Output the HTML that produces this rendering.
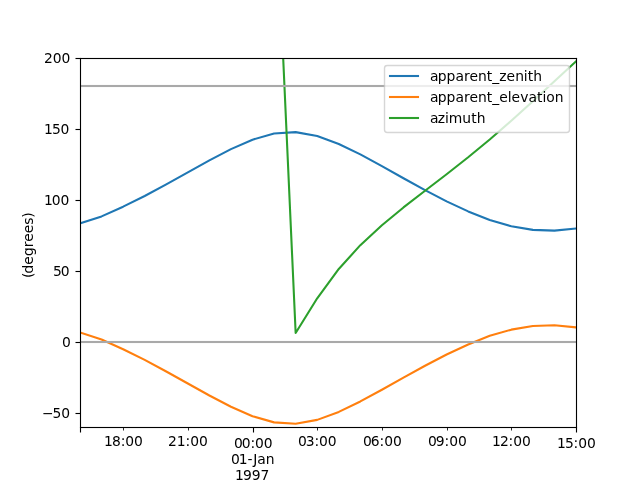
<!DOCTYPE html>
<html lang="en"><head><meta charset="utf-8"><title>Solar position</title>
<style>html,body{margin:0;padding:0;background:#fff;overflow:hidden}svg{display:block;will-change:transform}text{filter:grayscale(1);font-family:"DejaVu Sans", "Liberation Sans", sans-serif;font-size:13.8889px;fill:#000}</style></head><body>
<svg width="640" height="480" viewBox="0 0 640 480">
<rect x="0" y="0" width="640" height="480" fill="#ffffff"/>
<defs><clipPath id="ax"><rect x="80" y="58" width="496" height="370"/></clipPath></defs>
<g clip-path="url(#ax)" fill="none" stroke-width="2.0833" stroke-linejoin="round" stroke-linecap="square">
<polyline points="80.000,223.458 101.565,216.395 123.130,206.680 144.696,196.014 166.261,184.412 187.826,172.351 209.391,160.361 230.957,149.134 252.522,139.689 274.087,133.502 295.652,132.120 317.217,135.986 338.783,143.962 360.348,154.429 381.913,166.134 403.478,178.239 425.043,190.148 446.609,201.367 468.174,211.423 489.739,220.089 511.304,226.234 532.870,229.874 554.435,230.654 576.000,228.499" stroke="#1f77b4"/>
<polyline points="80.000,332.419 101.565,339.482 123.130,349.197 144.696,359.863 166.261,371.465 187.826,383.526 209.391,395.516 230.957,406.743 252.522,416.188 274.087,422.375 295.652,423.756 317.217,419.891 338.783,411.915 360.348,401.448 381.913,389.743 403.478,377.638 425.043,365.729 446.609,354.510 468.174,344.454 489.739,335.788 511.304,329.643 532.870,326.003 554.435,325.223 576.000,327.378" stroke="#ff7f0e"/>
<polyline points="80.000,42.108 101.565,23.877 123.130,6.570 144.696,-10.097 166.261,-26.622 187.826,-43.718 209.391,-62.377 230.957,-83.984 252.522,-110.284 274.087,-142.467 295.652,333.064 317.217,298.275 338.783,268.969 360.348,245.166 381.913,225.189 403.478,207.435 425.043,190.722 446.609,174.204 468.174,157.277 489.739,139.541 511.304,120.830 532.870,101.270 554.435,81.273 576.000,61.414" stroke="#2ca02c"/>
</g><g clip-path="url(#ax)">
<rect x="78" y="340.00" width="500" height="4" fill="#a9a9a9" fill-opacity="0.0417"/>
<rect x="78" y="341.00" width="500" height="2" fill="#a9a9a9"/>
<rect x="78" y="84.00" width="500" height="4" fill="#a9a9a9" fill-opacity="0.0417"/>
<rect x="78" y="85.00" width="500" height="2" fill="#a9a9a9"/>
</g>
<g fill="#000" stroke="none">
<rect x="79.944" y="428.000" width="1.111" height="4.500"/>
<rect x="575.944" y="428.000" width="1.111" height="4.500"/>
<rect x="252.944" y="428.000" width="1.111" height="4.500"/>
<rect x="123.083" y="428.000" width="0.833" height="2.500"/>
<rect x="188.083" y="428.000" width="0.833" height="2.500"/>
<rect x="317.083" y="428.000" width="0.833" height="2.500"/>
<rect x="382.083" y="428.000" width="0.833" height="2.500"/>
<rect x="447.083" y="428.000" width="0.833" height="2.500"/>
<rect x="511.083" y="428.000" width="0.833" height="2.500"/>
<rect x="75.500" y="412.944" width="4.500" height="1.111"/>
<rect x="75.500" y="341.944" width="4.500" height="1.111"/>
<rect x="75.500" y="270.944" width="4.500" height="1.111"/>
<rect x="75.500" y="199.944" width="4.500" height="1.111"/>
<rect x="75.500" y="128.944" width="4.500" height="1.111"/>
<rect x="75.500" y="57.944" width="4.500" height="1.111"/>
<rect x="79.944" y="57.945" width="1.111" height="370.110"/>
<rect x="575.944" y="57.945" width="1.111" height="370.110"/>
<rect x="79.945" y="57.944" width="497.110" height="1.111"/>
<rect x="79.945" y="426.944" width="497.110" height="1.111"/>
</g>
<g>
<text x="41.879 52.504 61.332" y="418.00">−50</text>
<text x="61.967" y="347.00">0</text>
<text x="52.949 60.761" y="276.00">50</text>
<text x="43.946 51.758 60.586" y="205.00">100</text>
<text x="43.946 52.008 60.586" y="134.00">150</text>
<text x="43.886 52.698 61.526" y="63.00">200</text>
<text x="103.975 111.912 120.741 125.303 134.006" y="446.00">18:00</text>
<text x="167.985 176.673 185.501 190.188 199.016" y="446.00">21:00</text>
<text x="297.995 305.807 314.511 319.073 327.776" y="446.00">03:00</text>
<text x="362.900 370.837 379.541 384.353 393.056" y="446.00">06:00</text>
<text x="427.900 435.837 444.541 449.353 458.056" y="446.00">09:00</text>
<text x="491.975 499.913 508.616 513.303 522.006" y="446.00">12:00</text>
<text x="233.965 241.777 250.606 255.043 263.871" y="448.00">00:00</text>
<text x="230.916 238.853 247.557 253.338 257.307 265.807" y="464.00">01-Jan</text>
<text x="234.999 243.061 251.764 260.592" y="480.00">1997</text>
<text x="556.885 564.948 573.526 578.338 587.041" y="448.00">15:00</text>
<text transform="translate(32.56 245.29) rotate(-90)" x="-32.719 -28.188 -19.375 -10.594 -1.906 3.609 12.156 20.563 27.656">(degrees)</text>
</g>
<rect x="384.5" y="65.5" width="185" height="67" rx="2.778" ry="2.778" fill="#ffffff" stroke="#cccccc" stroke-width="1.3889" opacity="0.8"/>
<rect x="388.96" y="74.958" width="30.08" height="2.0833" fill="#1f77b4"/>
<text x="429.980 437.855 446.527 455.589 464.089 469.496 478.027 486.824 492.261 499.199 506.480 515.136 523.808 527.667 533.230" y="81.00">apparent_zenith</text>
<rect x="388.96" y="95.958" width="30.08" height="2.0833" fill="#ff7f0e"/>
<text x="429.875 437.750 446.547 455.609 464.109 469.516 478.047 486.844 492.281 499.219 507.750 511.609 520.141 528.484 536.984 542.422 546.156 554.641" y="102.00">apparent_elevation</text>
<rect x="388.96" y="116.958" width="30.08" height="2.0833" fill="#2ca02c"/>
<text x="429.930 437.805 445.086 448.805 462.336 471.367 476.805" y="123.00">azimuth</text>
</svg></body></html>
